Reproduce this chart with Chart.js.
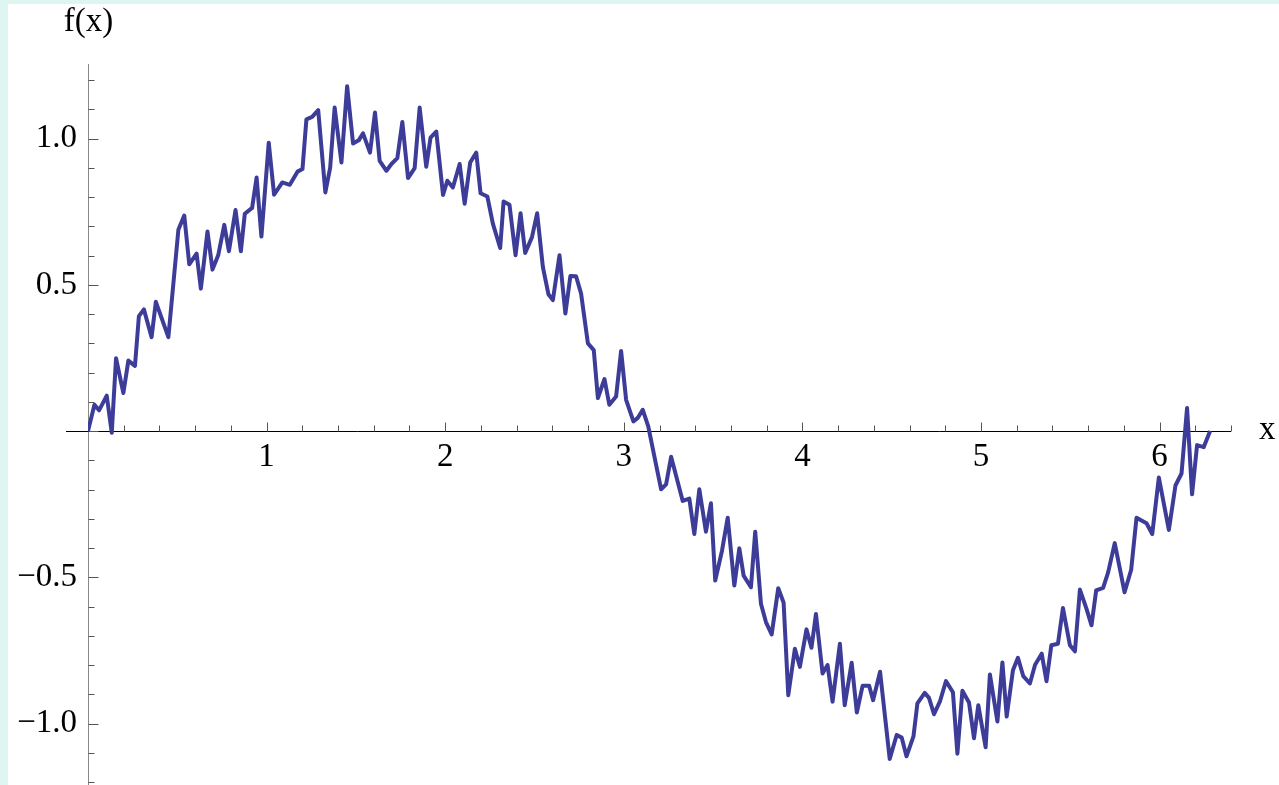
<!doctype html>
<html lang="en">

<head>
    <title>f(x) noisy sine</title>
    <meta charset="utf-8">
    <script src="https://cdn.jsdelivr.net/npm/chart.js@4.4.1/dist/chart.umd.min.js"></script>
    <style type="text/css">
        body,
        html {
            margin: 0;
            padding: 0;
            overflow: hidden;
            background: #dff5f2;
        }

        .frame {
            position: absolute;
            left: 8px;
            top: 4px;
            right: 0;
            bottom: 0;
            background: #fff;
        }

        #chart {
            position: absolute;
            left: 0;
            top: 0;
        }
    </style>
</head>

<body>
    <div class="frame"></div>
    <canvas id="chart" width="1279" height="785"></canvas>
    <script>
        // sample positions and values
        const xs = [
            0, 0.036, 0.062, 0.105, 0.133, 0.157, 0.198, 0.226, 0.263, 0.285,
            0.313, 0.356, 0.380, 0.450, 0.506, 0.539, 0.567, 0.608, 0.632, 0.669,
            0.697, 0.729, 0.763, 0.789, 0.826, 0.856, 0.878, 0.919, 0.944, 0.971,
            1.012, 1.042, 1.088, 1.130, 1.173, 1.201, 1.223, 1.255, 1.289, 1.329,
            1.356, 1.381, 1.419, 1.451, 1.484, 1.516, 1.540, 1.579, 1.607, 1.633,
            1.671, 1.699, 1.732, 1.760, 1.792, 1.829, 1.857, 1.894, 1.918, 1.950,
            1.988, 2.012, 2.043, 2.081, 2.109, 2.140, 2.174, 2.198, 2.236, 2.267,
            2.308, 2.327, 2.360, 2.394, 2.422, 2.448, 2.486, 2.515, 2.547, 2.578,
            2.603, 2.640, 2.673, 2.701, 2.733, 2.761, 2.799, 2.832, 2.855, 2.892,
            2.919, 2.957, 2.985, 3.013, 3.054, 3.078, 3.106, 3.137, 3.209, 3.237,
            3.265, 3.330, 3.367, 3.395, 3.423, 3.460, 3.488, 3.512, 3.550, 3.582,
            3.619, 3.647, 3.671, 3.712, 3.736, 3.768, 3.796, 3.828, 3.865, 3.895,
            3.921, 3.958, 3.986, 4.023, 4.051, 4.076, 4.113, 4.141, 4.169, 4.210,
            4.237, 4.276, 4.305, 4.337, 4.374, 4.396, 4.435, 4.489, 4.528, 4.556,
            4.583, 4.622, 4.644, 4.685, 4.709, 4.737, 4.771, 4.804, 4.843, 4.868,
            4.896, 4.933, 4.961, 4.985, 5.026, 5.050, 5.092, 5.120, 5.144, 5.179,
            5.207, 5.237, 5.274, 5.303, 5.340, 5.367, 5.394, 5.431, 5.459, 5.498,
            5.526, 5.554, 5.591, 5.619, 5.645, 5.684, 5.712, 5.749, 5.804, 5.841,
            5.871, 5.927, 5.959, 5.996, 6.052, 6.089, 6.123, 6.154, 6.182, 6.210,
            6.247, 6.283
        ];
        const ys = [
            0, 0.090, 0.071, 0.121, -0.006, 0.249, 0.130, 0.241, 0.223, 0.393,
            0.416, 0.321, 0.442, 0.321, 0.688, 0.737, 0.570, 0.607, 0.487, 0.682,
            0.552, 0.601, 0.705, 0.615, 0.756, 0.615, 0.743, 0.763, 0.867, 0.665,
            0.986, 0.808, 0.850, 0.842, 0.887, 0.896, 1.066, 1.074, 1.097, 0.816,
            0.901, 1.106, 0.918, 1.179, 0.983, 0.994, 1.018, 0.952, 1.089, 0.924,
            0.890, 0.913, 0.933, 1.057, 0.865, 0.899, 1.106, 0.904, 1.003, 1.024,
            0.807, 0.856, 0.833, 0.913, 0.777, 0.918, 0.952, 0.813, 0.802, 0.709,
            0.626, 0.785, 0.774, 0.601, 0.745, 0.609, 0.663, 0.745, 0.561, 0.468,
            0.448, 0.601, 0.402, 0.530, 0.529, 0.470, 0.300, 0.277, 0.113, 0.178,
            0.090, 0.118, 0.274, 0.107, 0.033, 0.045, 0.073, 0.016, -0.199, -0.182,
            -0.088, -0.239, -0.231, -0.352, -0.199, -0.344, -0.247, -0.511, -0.409, -0.296,
            -0.528, -0.401, -0.494, -0.534, -0.344, -0.590, -0.653, -0.695, -0.537, -0.587,
            -0.903, -0.744, -0.806, -0.678, -0.741, -0.625, -0.829, -0.800, -0.925, -0.727,
            -0.937, -0.792, -0.962, -0.871, -0.871, -0.920, -0.823, -1.121, -1.039, -1.048,
            -1.112, -1.044, -0.931, -0.895, -0.912, -0.968, -0.923, -0.855, -0.893, -1.103,
            -0.888, -0.928, -1.050, -0.937, -1.081, -0.832, -0.993, -0.791, -0.976, -0.818,
            -0.775, -0.838, -0.863, -0.799, -0.761, -0.855, -0.732, -0.727, -0.605, -0.732,
            -0.753, -0.542, -0.608, -0.664, -0.545, -0.536, -0.483, -0.383, -0.551, -0.474,
            -0.296, -0.315, -0.352, -0.159, -0.338, -0.186, -0.145, 0.079, -0.216, -0.048,
            -0.055, 0
        ];
        const xTicks = [1, 2, 3, 4, 5, 6];
        const xTickLabels = ["1", "2", "3", "4", "5", "6"];
        const yTicks = [-1, -0.5, 0.5, 1];
        const yTickLabels = ["\u22121.0", "\u22120.5", "0.5", "1.0"];

        const serif = "'Liberation Serif', 'Times New Roman', serif";

        // mathematica style axes: little ticks pointing into the plot
        const axisTicks = {
            id: "axisTicks",
            beforeDatasetsDraw(chart) {
                const { ctx, chartArea, scales: { x, y } } = chart;
                const x0 = Math.round(x.getPixelForValue(0)) + 0.5;
                const y0 = Math.round(y.getPixelForValue(0)) + 0.5;
                ctx.save();
                ctx.lineWidth = 1;
                ctx.strokeStyle = "#888";
                ctx.beginPath();
                ctx.moveTo(x0, chartArea.top);
                ctx.lineTo(x0, chartArea.bottom);
                ctx.stroke();

                // x axis runs a bit past the y axis on the left
                ctx.strokeStyle = "#000";
                ctx.beginPath();
                ctx.moveTo(66, y0);
                ctx.lineTo(chartArea.right, y0);
                ctx.stroke();

                ctx.strokeStyle = "#555";
                ctx.beginPath();
                for (let i = -12; i <= 12; i++) {
                    const py = Math.round(y.getPixelForValue(i / 10)) + 0.5;
                    const len = i % 5 === 0 ? 10 : 6;
                    ctx.moveTo(x0, py);
                    ctx.lineTo(x0 + len, py);
                }
                for (let i = 1; i / 5 <= x.max; i++) {
                    const px = Math.round(x.getPixelForValue(i / 5)) + 0.5;
                    const len = i % 5 === 0 ? 9 : 6;
                    ctx.moveTo(px, y0);
                    ctx.lineTo(px, y0 - len);
                }
                ctx.stroke();

                ctx.fillStyle = "#000";
                ctx.font = "33px " + serif;
                ctx.textAlign = "center";
                ctx.textBaseline = "alphabetic";
                ctx.fillText("f(x)", x0, 31);
                ctx.textAlign = "left";
                ctx.fillText("x", 1259, y0 + 7);
                ctx.restore();
            }
        };

        const ctx = document.getElementById("chart").getContext("2d");
        new Chart(ctx, {
            type: "line",
            data: {
                datasets: [{
                    data: xs.map((v, i) => ({ x: v, y: ys[i] })),
                    borderColor: "#3d3d99",
                    borderWidth: 4,
                    borderJoinStyle: "round",
                    pointRadius: 0,
                    tension: 0,
                    fill: false,
                }],
            },
            options: {
                responsive: false,
                animation: false,
                devicePixelRatio: 1,
                layout: { padding: { left: 0, right: 48, top: 64, bottom: 0 } },
                plugins: { legend: { display: false }, tooltip: { enabled: false } },
                scales: {
                    x: {
                        type: "linear",
                        position: { y: 0 },
                        min: 0,
                        max: 6.40,
                        afterBuildTicks: (s) => { s.ticks = xTicks.map(v => ({ value: v })); },
                        afterFit: (s) => { s.paddingLeft = 0; s.paddingRight = 0; },
                        grid: { display: false, drawTicks: false },
                        border: { display: false },
                        ticks: {
                            autoSkip: false,
                            maxRotation: 0,
                            padding: 6,
                            color: "#000",
                            font: { family: serif, size: 33, lineHeight: 1.2 },
                            callback: (v, i) => xTickLabels[i],
                        },
                    },
                    y: {
                        type: "linear",
                        position: "left",
                        min: -1.21,
                        max: 1.255,
                        afterBuildTicks: (s) => { s.ticks = yTicks.map(v => ({ value: v })); },
                        afterFit: (s) => { s.width = 88; s.paddingTop = 0; s.paddingBottom = 0; },
                        grid: { display: false, drawTicks: false },
                        border: { display: false },
                        ticks: {
                            autoSkip: false,
                            padding: 11,
                            color: "#000",
                            font: { family: serif, size: 33, lineHeight: 1.2 },
                            callback: (v, i) => yTickLabels[i],
                        },
                    },
                },
            },
            plugins: [axisTicks],
        });
    </script>
</body>

</html>
